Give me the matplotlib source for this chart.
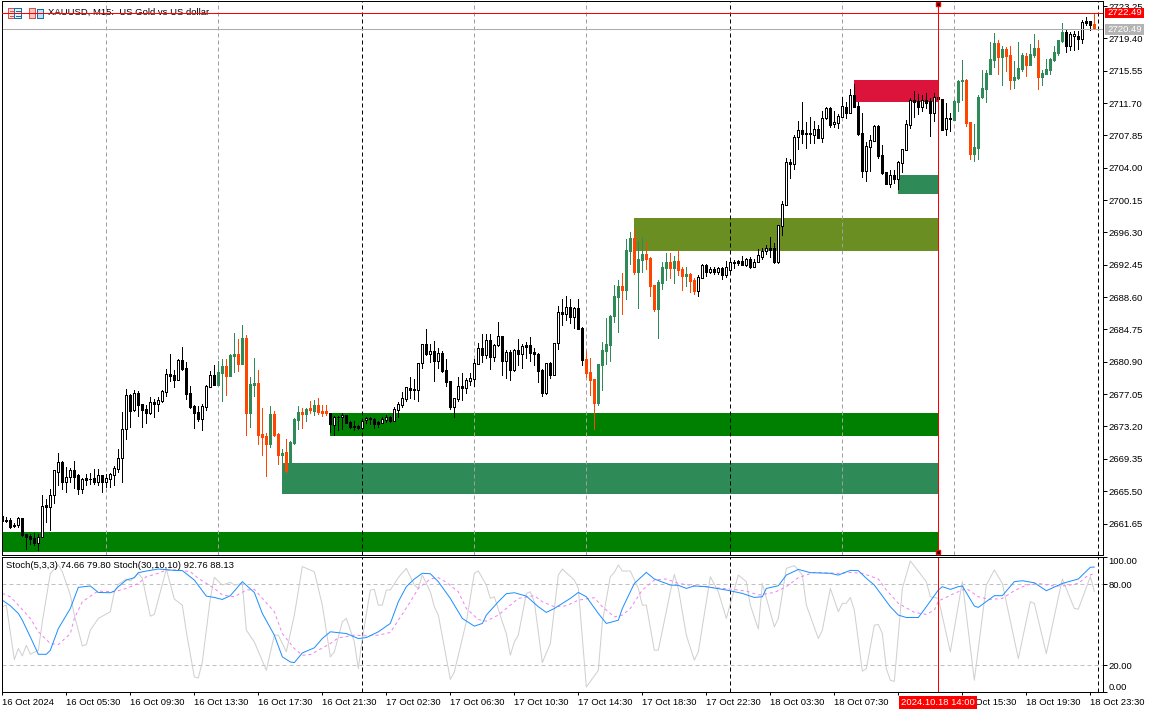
import matplotlib
matplotlib.use("Agg")
import matplotlib.pyplot as plt
from matplotlib.patches import Rectangle
from matplotlib.transforms import IdentityTransform

plt.rcParams['font.family'] = ['Liberation Sans', 'DejaVu Sans']
FS = 6.8

opens = [
2662.54,2662.07,2662.07,2661.47,2661.47,2662.26,2660.40,2660.16,2659.92,2659.37,
2660.08,2663.85,2663.57,2665.00,2667.82,2668.93,2666.63,2667.15,2667.98,2667.38,
2665.80,2667.07,2666.99,2667.07,2666.63,2667.38,2666.63,2666.99,2667.46,2668.18,
2669.41,2672.86,2676.91,2675.16,2677.15,2675.84,2675.24,2674.77,2676.08,2675.92,
2676.23,2677.35,2679.41,2679.29,2678.77,2681.08,2680.12,2677.15,2675.60,2674.92,
2674.13,2675.56,2677.94,2679.29,2678.18,2679.57,2680.40,2679.25,2681.63,2681.83,
2680.68,2683.74,2674.85,2678.18,2678.38,2672.30,2672.07,2671.15,2674.69,2672.30,
2669.84,2670.16,2668.81,2671.19,2673.97,2674.92,2674.69,2675.40,2675.04,2675.72,
2675.00,2675.00,2674.81,2673.42,2674.37,2674.29,2674.57,2673.73,2673.26,2673.26,
2673.02,2673.93,2674.21,2674.05,2673.73,2673.66,2673.98,2674.33,2673.90,2675.21,
2675.76,2676.48,2677.79,2677.67,2677.59,2680.72,2682.98,2681.87,2682.19,2681.04,
2681.95,2679.93,2678.58,2675.56,2676.48,2678.02,2677.83,2678.66,2678.90,2680.68,
2682.55,2681.75,2683.46,2681.52,2682.87,2683.94,2681.04,2682.03,2679.93,2682.27,
2681.87,2682.91,2682.91,2682.03,2681.83,2679.89,2677.23,2680.76,2679.37,2683.10,
2686.80,2686.64,2687.39,2686.28,2687.27,2684.89,2681.20,2679.65,2678.82,2676.04,
2680.56,2682.19,2682.95,2686.36,2688.66,2689.93,2689.45,2694.14,2695.65,2691.60,
2693.03,2693.74,2693.26,2690.05,2687.19,2690.29,2692.07,2692.79,2692.07,2692.91,
2691.96,2691.12,2691.36,2690.65,2689.34,2690.88,2692.43,2691.60,2691.96,2691.60,
2692.07,2691.24,2691.84,2692.79,2692.91,2692.91,2692.47,2693.15,2692.23,2692.79,
2693.42,2694.13,2694.41,2694.41,2692.78,2697.11,2699.57,2704.65,2704.49,2707.63,
2708.46,2708.10,2708.10,2707.95,2708.58,2707.59,2709.93,2711.12,2709.18,2709.37,
2710.09,2711.24,2710.53,2712.67,2711.36,2708.10,2703.62,2706.52,2707.23,2708.98,
2705.52,2703.50,2702.07,2703.14,2702.67,2704.57,2706.16,2709.14,2712.07,2711.95,
2711.24,2712.07,2711.95,2710.53,2712.39,2712.19,2708.58,2709.93,2709.69,2711.83,
2714.30,2714.45,2709.45,2705.64,2706.36,2712.39,2713.38,2715.17,2716.84,2718.86,
2717.19,2718.15,2717.43,2714.45,2714.69,2715.76,2717.31,2716.24,2717.43,2718.26,
2714.81,2715.17,2715.65,2716.84,2717.67,2719.10,2720.17,2718.50,2719.69,2719.69,
2719.34,2721.48,2721.48,2721.12]

closes = [
2662.00,2662.00,2661.27,2661.40,2662.26,2660.28,2660.08,2659.84,2659.37,2660.08,
2663.73,2663.57,2665.00,2667.98,2668.93,2666.63,2667.15,2667.98,2667.22,2665.80,
2666.91,2666.83,2666.95,2666.63,2667.38,2666.63,2667.07,2667.50,2668.22,2669.41,
2672.86,2676.91,2675.08,2677.15,2675.80,2675.16,2674.81,2676.08,2675.92,2676.31,
2677.42,2679.41,2679.21,2678.73,2681.08,2680.04,2677.11,2675.56,2674.85,2674.09,
2675.60,2677.98,2679.29,2678.18,2679.65,2680.40,2679.25,2681.67,2681.83,2680.68,
2683.74,2674.85,2678.26,2678.34,2672.23,2671.99,2671.15,2674.69,2672.19,2669.84,
2670.04,2667.90,2671.35,2674.09,2674.92,2674.69,2675.28,2675.16,2675.72,2674.92,
2674.81,2674.81,2673.50,2674.29,2674.29,2674.53,2673.65,2673.18,2673.14,2673.02,
2673.89,2674.21,2674.05,2673.50,2673.53,2674.05,2674.29,2673.86,2675.25,2675.84,
2676.56,2677.87,2677.59,2677.59,2680.72,2682.98,2681.83,2682.19,2681.04,2681.91,
2679.81,2678.54,2675.56,2676.56,2677.98,2677.83,2678.74,2678.94,2680.72,2682.51,
2681.75,2683.46,2681.52,2682.91,2683.94,2681.04,2682.03,2679.93,2682.27,2681.87,
2682.79,2682.71,2681.95,2681.79,2679.81,2677.23,2680.72,2679.37,2683.10,2686.80,
2686.64,2687.39,2686.28,2687.27,2684.85,2681.16,2679.61,2678.78,2676.04,2680.64,
2682.31,2683.02,2686.36,2688.70,2689.93,2689.45,2694.18,2695.65,2691.60,2693.15,
2693.74,2693.15,2689.93,2687.19,2690.41,2692.19,2692.79,2692.07,2692.91,2691.84,
2691.12,2691.36,2690.53,2689.34,2691.00,2692.43,2691.60,2691.96,2691.60,2692.03,
2691.24,2692.19,2692.79,2692.63,2692.71,2692.43,2693.15,2692.19,2692.79,2693.58,
2694.13,2694.41,2694.21,2692.78,2697.15,2699.65,2704.65,2704.45,2707.63,2708.46,
2708.06,2707.98,2707.98,2708.58,2707.59,2709.93,2711.12,2709.10,2709.41,2710.17,
2711.36,2710.53,2712.67,2711.28,2708.02,2703.62,2706.60,2707.31,2708.98,2705.40,
2703.38,2702.07,2703.14,2702.67,2704.65,2706.20,2709.18,2712.07,2711.83,2711.24,
2712.07,2711.72,2710.53,2712.39,2712.19,2708.50,2709.93,2709.77,2711.95,2714.34,
2714.45,2709.33,2705.64,2706.48,2712.43,2713.50,2715.29,2716.95,2718.86,2717.19,
2718.15,2717.31,2714.45,2714.81,2715.88,2717.43,2716.24,2717.55,2718.26,2714.81,
2715.29,2715.76,2716.95,2717.79,2719.22,2720.17,2718.50,2719.93,2719.93,2719.34,
2721.36,2721.24,2721.04,2720.49]

highs = [
2662.54,2662.38,2662.26,2661.67,2662.46,2662.26,2660.40,2660.40,2660.48,2660.40,
2665.04,2664.52,2665.72,2667.98,2670.00,2669.05,2668.34,2668.22,2669.05,2667.50,
2667.07,2667.54,2667.62,2668.14,2668.14,2667.46,2667.54,2667.62,2668.49,2670.56,
2674.92,2677.66,2677.07,2677.54,2677.46,2675.84,2675.80,2676.67,2676.47,2676.67,
2677.54,2680.00,2681.79,2679.93,2681.20,2682.66,2680.88,2678.02,2675.80,2675.64,
2675.88,2678.14,2679.81,2680.52,2680.98,2681.20,2681.20,2681.83,2684.33,2683.62,
2685.28,2684.09,2679.05,2681.35,2679.93,2675.40,2672.38,2675.64,2675.04,2672.38,
2670.52,2671.71,2671.47,2674.17,2675.60,2675.44,2675.44,2676.19,2676.35,2676.59,
2675.72,2675.72,2674.81,2674.41,2674.49,2674.77,2674.57,2673.81,2673.81,2673.42,
2673.97,2674.33,2674.33,2674.21,2673.81,2674.29,2674.57,2674.45,2675.56,2676.16,
2677.31,2677.94,2679.06,2678.86,2680.72,2682.98,2684.81,2682.98,2683.38,2682.51,
2682.15,2681.24,2678.58,2676.60,2679.06,2679.53,2678.98,2679.53,2681.24,2683.10,
2684.18,2684.18,2684.18,2682.98,2685.60,2683.94,2682.27,2682.27,2682.39,2683.58,
2682.98,2683.26,2683.86,2682.51,2681.91,2680.05,2680.76,2680.92,2683.10,2687.51,
2688.34,2688.74,2688.34,2687.47,2688.34,2685.01,2682.19,2681.32,2678.82,2680.64,
2683.26,2686.12,2686.44,2690.05,2690.65,2691.52,2695.53,2696.32,2696.72,2695.33,
2695.80,2695.21,2693.38,2690.05,2690.65,2692.79,2693.86,2693.86,2693.50,2694.10,
2692.15,2692.19,2691.48,2690.88,2691.24,2692.55,2692.55,2692.15,2692.19,2692.19,
2692.19,2692.91,2693.03,2693.03,2693.03,2693.46,2693.26,2693.38,2693.15,2694.34,
2694.45,2694.81,2695.76,2695.01,2697.15,2700.00,2705.17,2705.01,2707.95,2709.61,
2711.83,2709.45,2710.05,2709.53,2709.10,2710.76,2711.24,2711.28,2710.76,2710.41,
2712.43,2711.83,2713.38,2713.98,2711.83,2710.49,2707.07,2707.91,2709.10,2709.10,
2706.71,2703.50,2703.74,2703.74,2704.77,2706.24,2709.69,2712.31,2713.10,2712.79,
2712.67,2712.91,2712.31,2712.91,2712.39,2712.19,2711.72,2710.53,2712.07,2714.45,
2716.84,2714.57,2709.45,2709.22,2712.67,2715.65,2715.65,2718.98,2720.05,2719.22,
2718.50,2718.38,2718.50,2716.72,2718.98,2717.67,2717.67,2718.74,2719.93,2719.22,
2715.65,2716.95,2717.07,2718.50,2719.22,2721.24,2720.41,2720.17,2720.29,2720.29,
2721.60,2721.96,2721.48,2722.31]

lows = [
2662.00,2661.83,2661.11,2661.27,2661.19,2660.16,2658.65,2659.21,2659.13,2658.49,
2660.00,2661.83,2660.87,2664.13,2666.23,2665.76,2665.40,2666.59,2665.84,2665.16,
2665.32,2666.19,2666.35,2666.35,2666.27,2665.40,2666.03,2666.03,2666.23,2667.78,
2666.59,2671.75,2673.14,2675.00,2674.45,2673.14,2673.57,2674.69,2674.37,2675.00,
2676.12,2676.83,2678.62,2677.86,2678.73,2679.93,2676.51,2675.40,2673.02,2673.89,
2672.78,2675.16,2677.86,2678.10,2678.18,2676.27,2676.95,2679.25,2679.73,2679.85,
2680.64,2672.23,2673.18,2676.87,2671.15,2669.80,2667.30,2670.80,2672.07,2668.77,
2668.85,2667.82,2668.81,2671.11,2672.94,2673.02,2673.89,2674.81,2674.61,2674.69,
2674.45,2674.57,2672.54,2672.19,2672.78,2672.94,2673.57,2673.02,2672.78,2672.86,
2672.94,2673.65,2673.50,2673.02,2673.18,2673.58,2673.78,2673.78,2673.82,2674.37,
2675.56,2676.28,2676.56,2676.44,2676.24,2680.17,2681.75,2680.88,2678.62,2680.17,
2679.69,2678.02,2675.24,2674.33,2676.28,2676.36,2677.23,2678.10,2678.02,2680.64,
2680.92,2681.32,2680.09,2681.04,2682.79,2679.29,2678.98,2678.74,2679.85,2680.48,
2680.17,2681.36,2680.96,2680.48,2678.50,2676.87,2677.03,2679.02,2679.29,2682.39,
2685.29,2685.88,2685.56,2684.93,2684.77,2680.56,2679.14,2676.95,2672.90,2675.76,
2677.55,2680.64,2680.96,2685.68,2684.45,2686.60,2688.38,2692.55,2691.36,2687.31,
2691.60,2691.99,2688.74,2686.95,2683.74,2689.57,2690.65,2690.88,2690.29,2691.28,
2689.45,2689.97,2689.22,2688.98,2688.74,2690.88,2691.12,2691.48,2691.36,2691.36,
2690.76,2691.00,2691.60,2692.07,2692.43,2692.43,2692.31,2692.07,2692.19,2692.79,
2693.10,2693.74,2693.34,2692.70,2692.62,2695.96,2699.53,2702.79,2703.90,2706.28,
2706.91,2706.36,2706.91,2706.91,2707.51,2707.07,2709.81,2708.86,2708.86,2708.70,
2710.09,2709.93,2710.49,2711.28,2707.91,2702.90,2702.43,2703.62,2707.19,2705.17,
2703.26,2702.07,2701.71,2702.15,2701.48,2703.50,2706.12,2708.74,2710.09,2710.41,
2710.76,2711.12,2707.79,2709.57,2712.07,2708.50,2707.91,2708.38,2709.69,2710.76,
2712.07,2708.98,2705.05,2704.81,2705.05,2712.31,2711.83,2715.17,2716.00,2715.17,
2713.86,2715.53,2713.38,2713.50,2714.57,2715.53,2714.93,2716.24,2717.19,2713.38,
2713.86,2715.17,2715.17,2716.72,2717.43,2718.98,2717.79,2718.03,2718.03,2718.15,
2718.86,2721.00,2720.41,2720.49]

session_spans = [(54, 81), (146, 173), (238, 265), (273, 273)]

zone_start = [0, 82, 70, 158, 213, 224]
zone_end = [234, 234, 234, 234, 234, 234]
zone_low = [2658.22, 2672.10, 2665.20, 2694.09, 2711.87, 2700.92]
zone_high = [2660.64, 2674.80, 2668.85, 2698.02, 2714.45, 2703.14]
zone_color = ['#008000', '#008000', '#2E8B57', '#6B8E23', '#DC143C', '#2E8B57']

grey_bars = [26, 54, 118, 146, 210, 238]
black_bars = [90, 182, 274]
cursor_bar = 234
bid_price = 2720.49
ask_price = 2722.49

price_ticks = [2723.25, 2719.40, 2715.55, 2711.70, 2707.85, 2704.00, 2700.15, 2696.30,
               2692.45, 2688.60, 2684.75, 2680.90, 2677.05, 2673.20, 2669.35, 2665.50, 2661.65]

time_bars = list(range(0, 273, 16))
time_labels = ['16 Oct 2024', '16 Oct 05:30', '16 Oct 09:30', '16 Oct 13:30', '16 Oct 17:30',
               '16 Oct 21:30', '17 Oct 02:30', '17 Oct 06:30', '17 Oct 10:30', '17 Oct 14:30',
               '17 Oct 18:30', '17 Oct 22:30', '18 Oct 03:30', '18 Oct 07:30', '',
               '18 Oct 15:30', '18 Oct 19:30', '18 Oct 23:30']

slow_bars = [0,2,4,5,7,9,11,12,14,17,19,22,24,27,28,29,31,33,34,36,39,43,45,48,51,53,55,57,60,63,65,68,70,72,73,75,78,80,82,86,89,91,94,97,99,
             101,103,105,107,109,112,115,118,120,121,124,126,128,131,134,136,138,142,144,146,149,151,154,155,158,161,163,167,169,171,173,176,181,185,188,190,191,194,196,199,
             202,207,209,212,214,216,218,222,224,226,229,231,234,235,237,239,240,243,244,248,250,253,255,258,261,265,269,272,273]
slow_main = [68.2,64.0,58.3,53.3,40.9,28.0,28.0,31.0,47.1,62.0,77.7,78.7,73.9,73.7,74.9,78.2,83.1,84.9,88.6,89.8,91.3,90.3,90.1,83.1,71.2,70.2,68.7,71.5,81.9,73.9,58.3,42.2,26.1,22.3,21.8,29.0,32.8,39.7,44.7,43.4,39.7,40.4,44.7,50.9,67.0,
             78.2,83.9,88.1,87.8,81.9,69.5,54.6,48.9,50.9,57.1,67.0,73.0,73.7,71.2,63.3,59.1,62.0,69.5,73.9,70.7,58.3,50.9,53.3,62.0,80.6,88.8,83.9,79.4,79.2,76.9,78.7,78.2,75.7,73.2,70.2,70.7,76.9,78.9,86.8,91.0,
             88.6,88.1,86.8,90.3,90.1,84.4,79.4,63.3,57.1,55.3,55.3,63.3,75.7,78.2,76.2,78.2,78.7,63.8,62.8,71.5,71.5,81.9,82.6,81.1,75.2,80.6,83.9,92.6,92.76]

signal_bars = [0,2,4,7,9,12,14,17,18,20,23,24,28,31,34,36,39,41,44,47,49,53,55,58,61,63,65,68,70,73,75,77,79,82,84,88,91,94,97,99,
               102,104,107,109,111,114,116,119,121,124,127,129,133,135,138,141,144,148,150,153,155,157,160,163,166,169,173,177,182,186,189,193,196,199,
               203,209,212,215,219,221,224,228,231,233,234,238,241,244,247,250,253,256,259,263,266,269,271,273]
slow_signal = [73.2,70.7,64.5,54.6,44.7,36.0,35.2,43.4,54.6,67.0,73.2,74.9,74.4,76.9,80.6,85.6,88.1,90.6,90.6,89.3,84.4,76.9,72.0,70.7,75.7,76.2,69.5,59.6,43.4,32.3,27.3,27.8,31.0,36.0,40.2,42.2,41.7,42.2,44.2,53.3,
               67.0,76.9,83.9,84.9,81.4,74.4,62.0,53.8,52.6,57.1,64.5,69.5,71.5,67.0,63.3,64.0,68.2,70.0,63.3,55.8,57.1,62.0,75.7,83.1,83.9,80.6,78.9,77.7,76.4,74.9,72.0,73.9,78.2,84.9,
               88.8,88.1,88.8,88.1,83.9,75.7,65.8,59.1,57.6,60.8,67.5,73.2,76.9,70.7,68.7,69.5,75.2,79.4,80.6,78.7,78.9,80.6,85.6,88.13]

fast_bars = [0,1,3,4,5,6,7,9,10,12,14,15,17,18,20,21,22,24,27,28,29,31,32,34,35,37,38,41,43,45,46,48,49,50,52,53,55,57,58,60,61,63,66,68,69,71,73,75,78,80,82,83,85,86,88,89,90,92,93,94,95,96,97,99,
             101,103,104,105,107,108,109,112,113,116,118,119,121,122,123,125,126,127,128,129,131,132,133,135,137,139,140,143,144,146,149,150,152,153,154,155,157,159,160,161,163,164,167,168,169,171,173,174,177,179,181,184,186,187,189,190,193,194,196,198,199,
             200,201,204,205,207,209,210,211,212,213,215,216,218,219,220,221,222,223,225,227,231,232,234,237,240,243,246,248,250,254,257,258,261,265,268,269,272,273]
fast_main = [63.3,64.5,24.1,32.3,26.8,34.7,28.0,31.0,52.1,88.1,94.3,89.3,72.0,57.1,34.2,35.2,45.9,54.6,59.6,74.4,79.9,83.9,82.4,88.1,84.4,56.3,57.6,91.1,69.0,64.5,44.7,11.2,10.4,22.3,69.5,85.1,79.4,81.4,79.4,80.6,45.9,37.2,16.1,42.2,42.2,29.8,57.1,93.1,89.3,64.5,26.1,29.8,52.1,54.6,37.2,17.4,39.7,75.7,76.2,64.5,64.5,75.7,75.7,85.0,
             91.8,79.4,76.9,86.8,74.4,63.3,57.1,9.4,14.9,52.1,88.1,89.8,79.4,69.5,70.7,52.1,43.4,27.3,37.2,42.2,73.2,74.4,67.0,21.8,36.0,86.8,91.3,83.1,76.9,3.7,16.1,52.1,85.6,88.8,94.3,89.8,89.8,76.9,64.5,64.5,31.0,31.0,74.4,87.3,76.9,42.2,23.6,29.8,85.6,74.4,54.6,86.8,81.9,64.5,46.7,80.6,48.4,54.6,91.8,93.8,90.6,
             86.8,64.5,39.7,45.9,76.9,59.6,65.8,65.8,70.2,60.8,15.4,17.4,49.6,50.1,43.4,17.4,8.7,7.9,76.9,97.3,81.9,70.7,69.5,29.8,81.9,8.7,79.4,90.6,80.6,24.8,67.0,65.8,28.5,83.9,62.0,61.5,85.6,74.66]

stoch_ticks = [100, 80, 20, 0]
stoch_legend = 'Stoch(5,3,3) 74.66 79.80 Stoch(30,10,10) 92.76 88.13'
chart_title = 'XAUUSD, M15:  US Gold vs US dollar'
cursor_time = '2024.10.18 14:00'

W, H = 1151, 712
PX = 0.72
DASH = (0, (4, 3))
GREEN, ORANGE = '#2E8B57', '#FF4500'

fig = plt.figure(figsize=(W / 100, H / 100), dpi=100, facecolor='white')
left, right = 2.33, 1102.5
ax = fig.add_axes([left / W, (H - 555) / H, (right - left) / W, 554 / H])
sub = fig.add_axes([left / W, (H - 692) / H, (right - left) / W, 134.7 / H])
xmax = (right - left) / 4
ax.set_xlim(0, xmax)
sub.set_xlim(0, xmax)
ax.set_ylim(2657.90, 2723.86)
sub.set_ylim(0, 100)

# zones
for s, e, lo, hi, c in zip(zone_start, zone_end, zone_low, zone_high, zone_color):
    ax.add_patch(Rectangle((s, lo), e - s, hi - lo, facecolor=c, edgecolor='none',
                           antialiased=False, zorder=1))

# vertical separators
for b in grey_bars:
    ax.axvline(b, color='#A0A0A0', lw=PX, ls=DASH, zorder=2)
for b in black_bars:
    for a in (ax, sub):
        a.axvline(b, color='black', lw=PX, ls=DASH, zorder=2)

# candles
def candle_colors(i, o, c):
    in_session = any(a <= i <= b for a, b in session_spans)
    if in_session:
        col = GREEN if c >= o else ORANGE
        return col, col, col
    return ('white' if c >= o else 'black'), 'black', 'black'

bars = range(len(opens))
faces, edges, wicks = zip(*(candle_colors(i, opens[i], closes[i]) for i in bars))
ax.vlines(list(bars), lows, highs, colors=wicks, lw=PX, antialiased=False, zorder=3)
ax.bar(list(bars), [c - o for o, c in zip(opens, closes)], bottom=opens, width=0.5,
       color=faces, edgecolor=edges, linewidth=PX, antialiased=False, zorder=4)

# price lines
ax.axhline(bid_price, color='#ABABAB', lw=PX, zorder=5)
ax.axhline(ask_price, color='#FF0000', lw=PX, zorder=10)
for a in (ax, sub):
    a.axvline(cursor_bar, color='#FF0000', lw=PX, zorder=7)
ax.plot([cursor_bar, cursor_bar], [2723.47, 2658.25], ls='none', marker='s', ms=2.6,
        mfc='black', mec='#FF0000', mew=1.0, zorder=10, clip_on=False)

# header
def px_rect(x0, y0, x1, y1, z=6, **kw):
    ax.add_patch(Rectangle((x0, H - y1), x1 - x0, y1 - y0, transform=IdentityTransform(),
                           clip_on=False, antialiased=False, zorder=z, linewidth=PX, **kw))

px_rect(8, 8, 14, 18, facecolor='#FBE4E0', edgecolor='#E0504A')
px_rect(14, 8, 21, 18, facecolor='#E8F2FA', edgecolor='#1B6CA8')
for yy in (10.5, 13, 15.5):
    px_rect(9.5, yy, 12.5, yy + 0.4, facecolor='#E0504A', edgecolor='#E0504A')
    px_rect(15.5, yy, 19.5, yy + 0.4, facecolor='#1B6CA8', edgecolor='#1B6CA8')
px_rect(29, 8, 35, 18, facecolor='#F8C8C0', edgecolor='#E0504A')
px_rect(37, 9, 43, 18, facecolor='#BFE0F5', edgecolor='#1B6CA8')
ax.text(48, H - 12.5, chart_title, transform=IdentityTransform(), fontsize=FS, va='center',
        ha='left', color='black', zorder=6, clip_on=False)

# stochastic pane
for lvl in (80, 20):
    sub.axhline(lvl, color='#C0C0C0', lw=PX, ls=DASH, zorder=1)
sub.plot(fast_bars, fast_main, color='#CFCFCF', lw=PX, zorder=3)
sub.plot(signal_bars, slow_signal, color='#EE82EE', lw=PX, ls=(0, (3, 3)), zorder=4)
sub.plot(slow_bars, slow_main, color='#1E90FF', lw=PX, zorder=5)
sub.text(6, H - 566, stoch_legend, transform=IdentityTransform(), fontsize=FS, va='center',
         ha='left', color='black', zorder=6)

# axes dressing
for a in (ax, sub):
    for sp in a.spines.values():
        sp.set_linewidth(PX)
        sp.set_color('black')
        sp.set_zorder(9)
ax.set_xticks([])
ax.yaxis.tick_right()
ax.set_yticks(price_ticks)
ax.set_yticklabels([f'{p:.2f}' for p in price_ticks], fontsize=FS)
ax.tick_params(axis='y', length=3, width=PX, pad=1.5)

sub.yaxis.tick_right()
sub.set_yticks(stoch_ticks)
sub.set_yticklabels([f'{v:.2f}' for v in stoch_ticks], fontsize=FS)
sub.tick_params(axis='y', length=3, width=PX, pad=1.5)
lbls = sub.get_yticklabels()
lbls[0].set_va('top')
lbls[3].set_va('bottom')

sub.set_xticks(time_bars)
sub.set_xticklabels(time_labels, fontsize=FS, ha='left')
sub.tick_params(axis='x', length=2.5, width=PX, pad=1.5)

# value flags
flag_boxes = [(ask_price, '#FF0000', 7.5, 17.5), (bid_price, '#B4B4B4', 24, 35)]
for price, col, y0, y1 in flag_boxes:
    px_rect(1105, y0, 1144, y1, z=11, facecolor=col, edgecolor='none')
    ax.text(1107, H - (y0 + y1) / 2, f'{price:.2f}', transform=IdentityTransform(), fontsize=FS,
            color='white', va='center', ha='left', clip_on=False, zorder=12)

# time flag
px_rect(899, 696, 977, 709, z=11, facecolor='#FF0000', edgecolor='none')
ax.text(938, H - 702.5, cursor_time, transform=IdentityTransform(), fontsize=FS, color='white',
        va='center', ha='center', clip_on=False, zorder=12)
ax.set_zorder(2)
sub.set_zorder(1)

fig.savefig('out.png', dpi=100, facecolor='white')
